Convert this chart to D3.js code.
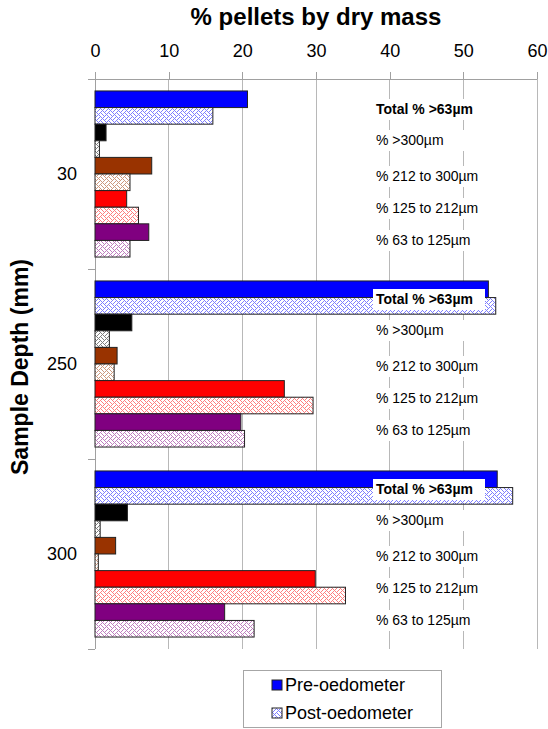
<!DOCTYPE html>
<html>
<head>
<meta charset="utf-8">
<script src="https://cdn.jsdelivr.net/npm/d3@7/dist/d3.min.js"></script>
<style>
  html, body { margin: 0; padding: 0; background: #fff; }
  svg { display: block; font-family: "Liberation Sans", Arial, sans-serif; }
</style>
</head>
<body>
<svg id="chart" width="548" height="729"></svg>
<script>
// Sample depths (mm)
const categories = ["30", "250", "300"];
// Size classes, top to bottom within each depth
const sizeClasses = ["Total % >63\u00B5m", "% >300\u00B5m", "% 212 to 300\u00B5m", "% 125 to 212\u00B5m", "% 63 to 125\u00B5m"];
const seriesNames = ["Pre-oedometer", "Post-oedometer"];

// % pellets by dry mass, one value per depth
const preTotal  = [20.7, 53.4, 54.6];
const postTotal = [16.0, 54.4, 56.7];
const pre300    = [1.5, 5.0, 4.4];
const post300   = [0.6, 1.95, 0.7];
const pre212    = [7.7, 3.0, 2.8];
const post212   = [4.75, 2.6, 0.45];
const pre125    = [4.3, 25.7, 29.9];
const post125   = [5.9, 29.6, 34.0];
const pre63     = [7.3, 19.8, 17.6];
const post63    = [4.75, 20.3, 21.6];

const xTicks = [0, 10, 20, 30, 40, 50, 60];

// colours per size class
const classColors = ["#0000FF", "#000000", "#993300", "#FF0000", "#800080"];

const preSets  = [preTotal, pre300, pre212, pre125, pre63];
const postSets = [postTotal, post300, post212, post125, post63];

// interleave: pre / post for every size class
const bars = [];
sizeClasses.forEach((cls, j) => {
  categories.forEach((cat, i) => {
    bars.push({ cat, slot: j * 2,     cls: j, post: false, value: preSets[j][i] });
    bars.push({ cat, slot: j * 2 + 1, cls: j, post: true,  value: postSets[j][i] });
  });
});

const svg = d3.select("#chart");
const plotLeft = 95, plotRight = 537, plotTop = 79, plotBottom = 649;

const x = d3.scaleLinear().domain([0, 60]).range([plotLeft, plotRight]);
const y0 = d3.scaleBand().domain(categories).range([plotTop, plotBottom]);
const y1 = d3.scaleBand().domain(d3.range(10)).range([0, y0.bandwidth()])
  .paddingInner(0).paddingOuter(0.72);

// 8x8 weave hatch for the post-oedometer bars
const weave = [
  "10001000",
  "01010100",
  "00100010",
  "01010001",
  "10001000",
  "00010101",
  "00100010",
  "01000101"
];
const defs = svg.append("defs");
classColors.forEach((c, j) => {
  const p = defs.append("pattern")
    .attr("id", "wave" + j)
    .attr("patternUnits", "userSpaceOnUse")
    .attr("width", 8).attr("height", 8);
  p.append("rect").attr("width", 8).attr("height", 8).attr("fill", "#fff");
  weave.forEach((row, r) => {
    row.split("").forEach((bit, k) => {
      if (bit === "1") {
        p.append("rect")
          .attr("x", k).attr("y", r).attr("width", 1).attr("height", 1)
          .attr("fill", c).attr("fill-opacity", 0.5);
      }
    });
  });
});

// title
svg.append("text")
  .attr("x", 316).attr("y", 25)
  .attr("text-anchor", "middle")
  .attr("font-size", 24).attr("font-weight", "bold")
  .text("% pellets by dry mass");

// gridlines
svg.append("g").selectAll("line")
  .data(xTicks.filter(t => t > 0))
  .join("line")
  .attr("x1", d => x(d)).attr("x2", d => x(d))
  .attr("y1", plotTop).attr("y2", plotBottom)
  .attr("stroke", "#b8b8b8").attr("stroke-width", 1)
  .attr("shape-rendering", "crispEdges");

// top value axis
const xAxis = svg.append("g")
  .attr("transform", `translate(0,${plotTop})`)
  .call(d3.axisTop(x).tickValues(xTicks).tickSizeInner(7).tickSizeOuter(0).tickPadding(15));
xAxis.select(".domain").remove();
xAxis.selectAll(".tick line").attr("stroke", "#a0a0a0").attr("shape-rendering", "crispEdges");
xAxis.selectAll(".tick text")
  .attr("font-size", 18)
  .attr("font-family", "Liberation Sans, Arial, sans-serif")
  .attr("fill", "#000");
svg.append("line")
  .attr("x1", 88).attr("x2", plotRight).attr("y1", plotTop).attr("y2", plotTop)
  .attr("stroke", "#a0a0a0").attr("shape-rendering", "crispEdges");

// category axis
svg.append("line")
  .attr("x1", plotLeft).attr("x2", plotLeft).attr("y1", plotTop).attr("y2", plotBottom)
  .attr("stroke", "#a0a0a0").attr("shape-rendering", "crispEdges");
svg.append("g").selectAll("line")
  .data(categories.map(c => y0(c)).concat([plotBottom]))
  .join("line")
  .attr("x1", 88).attr("x2", plotLeft)
  .attr("y1", d => d).attr("y2", d => d)
  .attr("stroke", "#a0a0a0").attr("shape-rendering", "crispEdges");
svg.append("g").selectAll("text")
  .data(categories)
  .join("text")
  .attr("x", 77)
  .attr("y", d => y0(d) + y0.bandwidth() / 2)
  .attr("dy", "0.35em")
  .attr("text-anchor", "end")
  .attr("font-size", 18)
  .text(d => d);

svg.append("text")
  .attr("transform", "translate(28,367) rotate(-90)")
  .attr("text-anchor", "middle")
  .attr("font-size", 23).attr("font-weight", "bold")
  .text("Sample Depth (mm)");

// bars
svg.append("g").selectAll("rect")
  .data(bars)
  .join("rect")
  .attr("x", x(0))
  .attr("y", d => y0(d.cat) + y1(d.slot))
  .attr("width", d => x(d.value) - x(0))
  .attr("height", y1.bandwidth())
  .attr("fill", d => d.post ? `url(#wave${d.cls})` : classColors[d.cls])
  .attr("stroke", "#222")
  .attr("stroke-width", 1);

// size-class labels in white boxes
const labelOffsets = [30, 61, 97, 129, 161];
const lab = svg.append("g");
categories.forEach(cat => {
  sizeClasses.forEach((cls, j) => {
    const cy = y0(cat) + labelOffsets[j];
    lab.append("rect")
      .attr("x", 373).attr("y", cy - 10)
      .attr("width", 112).attr("height", 21)
      .attr("fill", "#fff");
    lab.append("text")
      .attr("x", 376).attr("y", cy)
      .attr("dy", "0.35em")
      .attr("font-size", 14)
      .attr("font-weight", j === 0 ? "bold" : "normal")
      .text(cls);
  });
});

// legend
const lg = svg.append("g");
lg.append("rect")
  .attr("x", 243.5).attr("y", 670.5).attr("width", 198).attr("height", 57)
  .attr("fill", "#fff").attr("stroke", "#a6a6a6");
seriesNames.forEach((name, k) => {
  const cy = 685 + k * 28;
  lg.append("rect")
    .attr("x", 272).attr("y", cy - 5).attr("width", 10).attr("height", 10)
    .attr("fill", k === 0 ? classColors[0] : "url(#wave0)")
    .attr("stroke", "#222");
  lg.append("text")
    .attr("x", 285).attr("y", cy).attr("dy", "0.35em")
    .attr("font-size", 18)
    .text(name);
});
</script>
</body>
</html>
